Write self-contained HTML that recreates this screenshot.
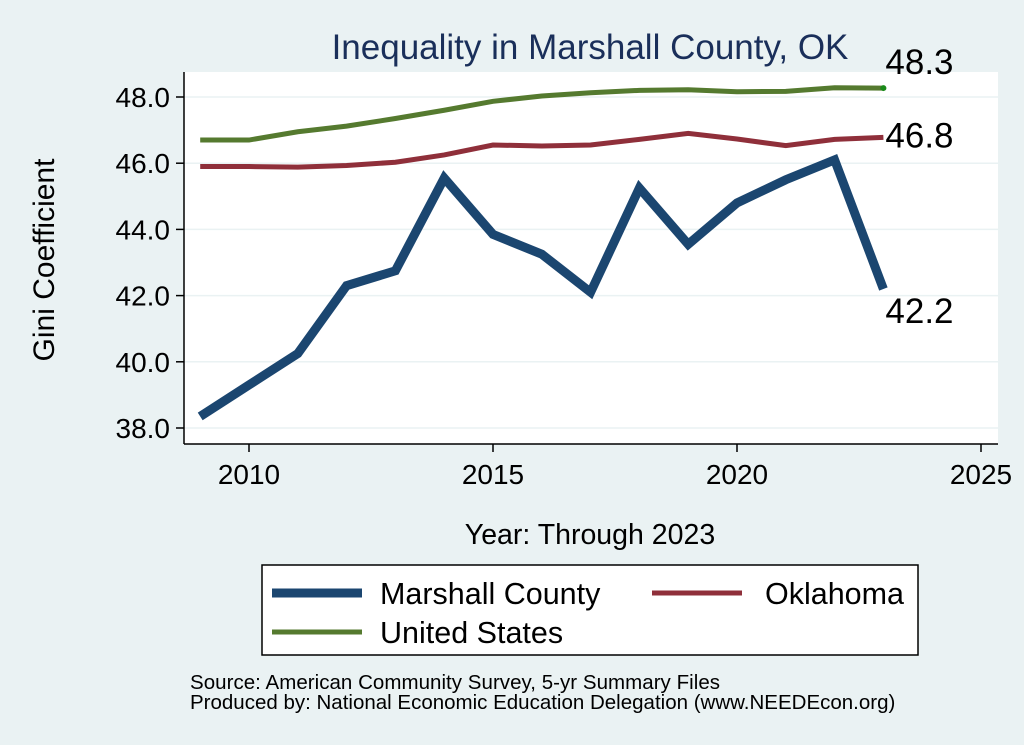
<!DOCTYPE html>
<html><head><meta charset="utf-8"><style>
body{margin:0;background:#eaf2f3;}
svg{display:block;font-family:"Liberation Sans",Arial,sans-serif;}
</style></head><body>
<svg width="1024" height="745">
<rect x="0" y="0" width="1024" height="745" fill="#eaf2f3"/>
<rect x="184" y="72" width="814" height="372" fill="#fff"/>
<text x="590" y="59" font-size="35" fill="#1a2f5a" text-anchor="middle">Inequality in Marshall County, OK</text>
<g id="grid"></g><g id="axes"></g><g id="series"></g>
<text transform="translate(54,260) rotate(-90)" font-size="30" text-anchor="middle">Gini Coefficient</text>
<text x="590" y="544" font-size="28.5" text-anchor="middle">Year: Through 2023</text>
<g>
<rect x="262" y="565" width="656" height="90" fill="#fff" stroke="#000" stroke-width="1.5"/>
<line x1="272" y1="593" x2="362" y2="593" stroke="#1b4670" stroke-width="9"/>
<text x="380" y="604" font-size="30.5">Marshall County</text>
<line x1="652" y1="593" x2="742" y2="593" stroke="#8f2f3a" stroke-width="5"/>
<text x="765" y="604" font-size="30.5">Oklahoma</text>
<line x1="272" y1="632" x2="362" y2="632" stroke="#557a2f" stroke-width="5"/>
<text x="380" y="643" font-size="30.5">United States</text>
</g>
<text x="190" y="689" font-size="20.5" textLength="530">Source: American Community Survey, 5-yr Summary Files</text>
<text x="190" y="709" font-size="20.5">Produced by: National Economic Education Delegation (www.NEEDEcon.org)</text>
</svg>
<script>
const years=[2009,2010,2011,2012,2013,2014,2015,2016,2017,2018,2019,2020,2021,2022,2023];
const marshall=[38.35,39.3,40.25,42.3,42.75,45.55,43.85,43.25,42.1,45.25,43.55,44.8,45.5,46.1,42.2];
const oklahoma=[45.9,45.9,45.88,45.93,46.03,46.25,46.55,46.52,46.55,46.72,46.9,46.73,46.53,46.72,46.78];
const us=[46.7,46.7,46.95,47.12,47.35,47.6,47.87,48.03,48.13,48.2,48.22,48.16,48.17,48.28,48.27];
const yTicks=[38,40,42,44,46,48];
const xTicks=[2010,2015,2020,2025];
const NS='http://www.w3.org/2000/svg';
const X=v=>249+(v-2010)*48.8;
const Y=v=>428-(v-38)*33.1;
function mk(tag,attrs,parent,txt){const e=document.createElementNS(NS,tag);for(const k in attrs)e.setAttribute(k,attrs[k]);if(txt!==undefined)e.textContent=txt;document.getElementById(parent).appendChild(e);return e;}
yTicks.forEach(t=>{
 let g=mk('line',{x1:184,x2:998,y1:Y(t),y2:Y(t),stroke:'#eaf2f3','stroke-width':1.5},'grid');
 
 
 let tk=mk('line',{x1:176,x2:184,y1:Y(t),y2:Y(t),stroke:'#000','stroke-width':1.5},'axes');
 
 
 let l=mk('text',{x:170,y:Y(t)+10,'font-size':28,'text-anchor':'end'},'axes',t.toFixed(1));
 
 
});
xTicks.forEach(t=>{
 let tk=mk('line',{x1:X(t),x2:X(t),y1:444,y2:452,stroke:'#000','stroke-width':1.5},'axes');
 
 
 let l=mk('text',{x:X(t),y:484,'font-size':28,'text-anchor':'middle'},'axes',t);
 
 
});
let ya=mk('line',{x1:184,x2:184,y1:72,y2:444,stroke:'#000','stroke-width':1.5},'axes');


let xa=mk('line',{x1:184,x2:998,y1:444,y2:444,stroke:'#000','stroke-width':1.5},'axes');


function line(vals,color,w,name){
 const p=mk('polyline',{points:vals.map((v,i)=>X(years[i])+','+Y(v)).join(' '),fill:'none',stroke:color,'stroke-width':w,'stroke-linejoin':'miter'},'series');
 
 
}
line(us,'#557a2f',5,'line-united-states');
line(oklahoma,'#8f2f3a',5,'line-oklahoma');
line(marshall,'#1b4670',9,'line-marshall-county');
const n=years.length-1;
let d=mk('circle',{cx:X(years[n]),cy:Y(us[n]),r:3,fill:'#1a8a1a'},'series');


[[us,-14,'label-us-end'],[oklahoma,10,'label-oklahoma-end'],[marshall,34,'label-marshall-end']].forEach(([a,dy,nm])=>{
 let t=mk('text',{x:X(years[n])+2,y:Y(a[n])+dy,'font-size':35},'series',a[n].toFixed(1));
 
 
});
</script>
</body></html>
